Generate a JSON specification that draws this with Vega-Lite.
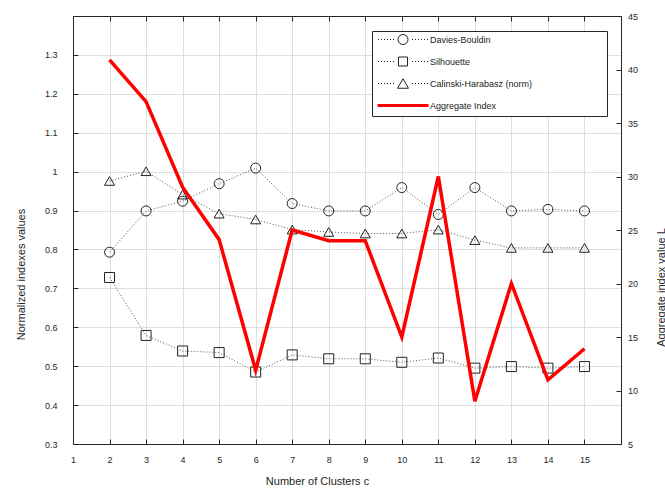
{
  "$schema": "https://vega.github.io/schema/vega-lite/v6.json",
  "width": 548,
  "height": 428,
  "autosize": {"type": "none"},
  "padding": {"left": 73, "top": 16, "right": 44, "bottom": 49},
  "background": "white",
  "config": {
    "font": "Liberation Sans",
    "view": {"stroke": null},
    "axis": {
      "domainColor": "#262626",
      "tickColor": "#262626",
      "labelColor": "#262626",
      "titleColor": "#262626",
      "labelFontSize": 9,
      "titleFontSize": 11,
      "titleFontWeight": "normal",
      "gridColor": "#dedede",
      "gridWidth": 1,
      "tickSize": -5,
      "labelOverlap": false,
      "labelFlush": false
    },
    "axisX": {"labelOverlap": false, "labelFlush": false}
  },
  "datasets": {
    "norm": [
      {"c": 2, "series": "Davies-Bouldin", "value": 0.793},
      {"c": 3, "series": "Davies-Bouldin", "value": 0.899},
      {"c": 4, "series": "Davies-Bouldin", "value": 0.924},
      {"c": 5, "series": "Davies-Bouldin", "value": 0.969},
      {"c": 6, "series": "Davies-Bouldin", "value": 1.009},
      {"c": 7, "series": "Davies-Bouldin", "value": 0.918},
      {"c": 8, "series": "Davies-Bouldin", "value": 0.899},
      {"c": 9, "series": "Davies-Bouldin", "value": 0.899},
      {"c": 10, "series": "Davies-Bouldin", "value": 0.959},
      {"c": 11, "series": "Davies-Bouldin", "value": 0.890},
      {"c": 12, "series": "Davies-Bouldin", "value": 0.959},
      {"c": 13, "series": "Davies-Bouldin", "value": 0.899},
      {"c": 14, "series": "Davies-Bouldin", "value": 0.903},
      {"c": 15, "series": "Davies-Bouldin", "value": 0.899},
      {"c": 2, "series": "Silhouette", "value": 0.728},
      {"c": 3, "series": "Silhouette", "value": 0.579},
      {"c": 4, "series": "Silhouette", "value": 0.539},
      {"c": 5, "series": "Silhouette", "value": 0.535},
      {"c": 6, "series": "Silhouette", "value": 0.485},
      {"c": 7, "series": "Silhouette", "value": 0.529},
      {"c": 8, "series": "Silhouette", "value": 0.519},
      {"c": 9, "series": "Silhouette", "value": 0.519},
      {"c": 10, "series": "Silhouette", "value": 0.510},
      {"c": 11, "series": "Silhouette", "value": 0.521},
      {"c": 12, "series": "Silhouette", "value": 0.495},
      {"c": 13, "series": "Silhouette", "value": 0.499},
      {"c": 14, "series": "Silhouette", "value": 0.495},
      {"c": 15, "series": "Silhouette", "value": 0.499},
      {"c": 2, "series": "Calinski-Harabasz (norm)", "value": 0.976},
      {"c": 3, "series": "Calinski-Harabasz (norm)", "value": 1.001},
      {"c": 4, "series": "Calinski-Harabasz (norm)", "value": 0.941},
      {"c": 5, "series": "Calinski-Harabasz (norm)", "value": 0.892},
      {"c": 6, "series": "Calinski-Harabasz (norm)", "value": 0.877},
      {"c": 7, "series": "Calinski-Harabasz (norm)", "value": 0.851},
      {"c": 8, "series": "Calinski-Harabasz (norm)", "value": 0.845},
      {"c": 9, "series": "Calinski-Harabasz (norm)", "value": 0.841},
      {"c": 10, "series": "Calinski-Harabasz (norm)", "value": 0.841},
      {"c": 11, "series": "Calinski-Harabasz (norm)", "value": 0.851},
      {"c": 12, "series": "Calinski-Harabasz (norm)", "value": 0.824},
      {"c": 13, "series": "Calinski-Harabasz (norm)", "value": 0.804},
      {"c": 14, "series": "Calinski-Harabasz (norm)", "value": 0.804},
      {"c": 15, "series": "Calinski-Harabasz (norm)", "value": 0.804}
    ],
    "agg": [
      {"c": 2, "L": 40.9},
      {"c": 3, "L": 37.0},
      {"c": 4, "L": 29.0},
      {"c": 5, "L": 24.1},
      {"c": 6, "L": 11.9},
      {"c": 7, "L": 25.0},
      {"c": 8, "L": 24.0},
      {"c": 9, "L": 24.0},
      {"c": 10, "L": 15.0},
      {"c": 11, "L": 30.0},
      {"c": 12, "L": 9.0},
      {"c": 13, "L": 20.0},
      {"c": 14, "L": 11.0},
      {"c": 15, "L": 13.9}
    ]
  },
  "layer": [
    {
      "data": {"name": "norm"},
      "encoding": {
        "x": {
          "field": "c", "type": "quantitative",
          "scale": {"domain": [1, 16], "nice": false, "zero": false},
          "axis": {
            "orient": "bottom",
            "values": [1, 2, 3, 4, 5, 6, 7, 8, 9, 10, 11, 12, 13, 14, 15],
            "grid": true,
            "labelOverlap": false,
            "labelFlush": false,
            "labelSeparation": 0,
            "labelPadding": 16,
            "title": "Number of Clusters c",
            "titleX": 244,
            "titleY": 37,
            "titleAlign": "center",
            "titleBaseline": "middle"
          }
        },
        "y": {
          "field": "value", "type": "quantitative",
          "scale": {"domain": [0.3, 1.4], "nice": false, "zero": false},
          "axis": {
            "orient": "left",
            "values": [0.3, 0.4, 0.5, 0.6, 0.7, 0.8, 0.9, 1, 1.1, 1.2, 1.3],
            "format": "~g",
            "grid": true,
            "labelOverlap": false,
            "labelPadding": 21,
            "title": "Normalized indexes values",
            "titleX": -52,
            "titleY": 258,
            "titleAngle": -90,
            "titleAlign": "center",
            "titleBaseline": "middle"
          }
        }
      },
      "layer": [
        {
          "mark": {"type": "line", "strokeDash": [1, 2], "strokeWidth": 1, "color": "#555555"},
          "encoding": {
            "detail": {"field": "series", "type": "nominal"}
          }
        },
        {
          "mark": {"type": "point", "filled": false, "stroke": "#222222", "strokeWidth": 1, "opacity": 1, "size": 100},
          "encoding": {
            "shape": {
              "field": "series", "type": "nominal",
              "scale": {
                "domain": ["Davies-Bouldin", "Silhouette", "Calinski-Harabasz (norm)"],
                "range": ["circle", "square", "triangle-up"]
              },
              "legend": null
            }
          }
        }
      ]
    },
    {
      "data": {"name": "agg"},
      "mark": {"type": "line", "color": "#ff0000", "strokeWidth": 3.5},
      "encoding": {
        "x": {
          "field": "c", "type": "quantitative",
          "axis": {
            "orient": "top",
            "values": [1, 2, 3, 4, 5, 6, 7, 8, 9, 10, 11, 12, 13, 14, 15],
            "labels": false,
            "grid": false,
            "title": null
          }
        },
        "y": {
          "field": "L", "type": "quantitative",
          "scale": {"domain": [5, 45], "nice": false, "zero": false},
          "axis": {
            "orient": "right",
            "values": [5, 10, 15, 20, 25, 30, 35, 40, 45],
            "grid": false,
            "labelPadding": 11.5,
            "title": "Aggregate index value L",
            "titleX": 40,
            "titleY": 271,
            "titleAngle": -90,
            "titleAlign": "center",
            "titleBaseline": "middle"
          }
        }
      }
    },
    {
      "data": {"name": "agg"},
      "transform": [{"filter": "datum.c > 100"}],
      "mark": {"type": "point", "filled": false, "opacity": 1, "stroke": "#222222", "strokeWidth": 1},
      "encoding": {
        "shape": {
          "field": "series", "type": "nominal",
          "scale": {
            "domain": ["Davies-Bouldin", "Silhouette", "Calinski-Harabasz (norm)", "Aggregate Index"],
            "range": [
              "M 1 0 A 1 1 0 1 1 -1 0 A 1 1 0 1 1 1 0 Z M -5 0 h 0.2 M -4.4 0 h 0.2 M -3.8 0 h 0.2 M -3.2 0 h 0.2 M -2.6 0 h 0.2 M -2 0 h 0.2 M 1.8 0 h 0.2 M 2.4 0 h 0.2 M 3 0 h 0.2 M 3.6 0 h 0.2 M 4.2 0 h 0.2 M 4.8 0 h 0.2",
              "M -0.9 -0.9 H 0.9 V 0.9 H -0.9 Z M -5 0 h 0.2 M -4.4 0 h 0.2 M -3.8 0 h 0.2 M -3.2 0 h 0.2 M -2.6 0 h 0.2 M -2 0 h 0.2 M 1.8 0 h 0.2 M 2.4 0 h 0.2 M 3 0 h 0.2 M 3.6 0 h 0.2 M 4.2 0 h 0.2 M 4.8 0 h 0.2",
              "M 0 -0.95 L -1.1 0.95 L 1.1 0.95 Z M -5 0 h 0.2 M -4.4 0 h 0.2 M -3.8 0 h 0.2 M -3.2 0 h 0.2 M -2.6 0 h 0.2 M -2 0 h 0.2 M 1.8 0 h 0.2 M 2.4 0 h 0.2 M 3 0 h 0.2 M 3.6 0 h 0.2 M 4.2 0 h 0.2 M 4.8 0 h 0.2",
              "M -5.1 0 L 5.1 0"
            ]
          },
          "legend": {
            "title": null,
            "orient": "none",
            "legendX": 299,
            "legendY": 15,
            "padding": 4,
            "strokeColor": "#262626",
            "fillColor": "white",
            "symbolSize": 100,
            "symbolOffset": 22.5,
            "labelOffset": 22.5,
            "rowPadding": 8,
            "labelFontSize": 9,
            "labelColor": "#222222",
            "labelLimit": 400,
            "labelExpr": "datum.label + '\u00a0\u00a0\u00a0\u00a0\u00a0\u00a0\u00a0\u00a0\u00a0\u00a0\u00a0\u00a0\u00a0\u00a0\u00a0\u00a0\u00a0\u00a0\u00a0\u00a0\u00a0\u00a0\u00a0\u00a0\u00a0\u00a0\u00a0\u00a0\u200b'",
            "encoding": {
              "symbols": {
                "stroke": {"value": {"expr": "datum.value === 'Aggregate Index' ? '#ff0000' : '#222222'"}},
                "strokeWidth": {"value": {"expr": "datum.value === 'Aggregate Index' ? 3 : 1"}}
              }
            }
          }
        }
      }
    }
  ],
  "resolve": {
    "scale": {"y": "independent", "shape": "independent"},
    "axis": {"x": "independent"},
    "legend": {"shape": "independent"}
  }
}
